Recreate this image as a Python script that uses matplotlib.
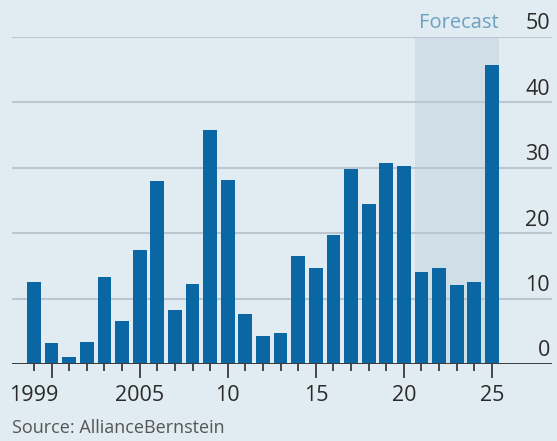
import matplotlib.pyplot as plt
from matplotlib.patches import Rectangle

# Values
years = list(range(1999, 2026))
values = [12.6, 3.2, 1.1, 3.3, 13.3, 6.6, 17.4, 28.0, 8.2, 12.3,
          35.8, 28.1, 7.7, 4.3, 4.8, 16.5, 14.7, 19.7, 29.8, 24.5,
          30.8, 30.3, 14.1, 14.7, 12.1, 12.6, 45.7]
forecast_start = 2021
forecast_end = 2025
y_ticks = [0, 10, 20, 30, 40, 50]
x_label_pos = [1999, 2005, 2010, 2015, 2020, 2025]
x_labels = ['1999', '2005', '10', '15', '20', '25']
major_ticks = [2000, 2005, 2010, 2015, 2020, 2025]

BG = '#e1ebf2'
BAR = '#0b67a3'
SHADE = '#d0dee8'
GRID = '#bac7d0'
TEXT = '#2a2a2a'
FONT = ['Open Sans', 'DejaVu Sans']

plt.rcParams['font.family'] = FONT

fig = plt.figure(figsize=(5.57, 4.41), dpi=100, facecolor=BG)
ax = fig.add_axes([12 / 557, 77 / 441, 540 / 557, 327 / 441])
ax.set_facecolor(BG)
ax.set_xlim(1997.75, 2028.41)
ax.set_ylim(0, 50)

bar_w = 0.78
# forecast shading
ax.add_patch(Rectangle((forecast_start - bar_w / 2, 0),
                       forecast_end - forecast_start + bar_w, 50,
                       facecolor=SHADE, edgecolor='none', zorder=0))
ax.text(forecast_end + bar_w / 2, 50.6, 'Forecast', ha='right', va='bottom',
        fontsize=14.5, color='#6ba2c0', clip_on=False)

# gridlines
for v in y_ticks[1:]:
    ax.axhline(v, color=GRID, lw=1.5, zorder=1)

ax.bar(years, values, width=bar_w, color=BAR, zorder=2)

ax.axhline(0, color='#3a3a3a', lw=1.4, zorder=3)

# y labels on the right, sitting on the gridlines
for v in y_ticks:
    ax.text(1.0 - 2 / 540, v + 0.4, str(v), transform=ax.get_yaxis_transform(),
            ha='right', va='bottom', fontsize=15.5, color=TEXT)

for s in ax.spines.values():
    s.set_visible(False)
ax.set_yticks([])
ax.set_xticks(years, minor=True)
ax.set_xticks(major_ticks)
ax.set_xticklabels([])
ax.tick_params(axis='x', which='minor', length=5, width=1.3, color='#3a3a3a')
ax.tick_params(axis='x', which='major', length=10, width=1.3, color='#3a3a3a')

for pos, lab in zip(x_label_pos, x_labels):
    ax.text(pos, -3.2, lab, ha='center', va='top', fontsize=15.5, color=TEXT)

fig.text(12 / 557, 1 - 437 / 441, 'Source: AllianceBernstein', ha='left', va='bottom',
         fontsize=13, color='#555555')

fig.savefig('out.png', dpi=100, facecolor=BG)
